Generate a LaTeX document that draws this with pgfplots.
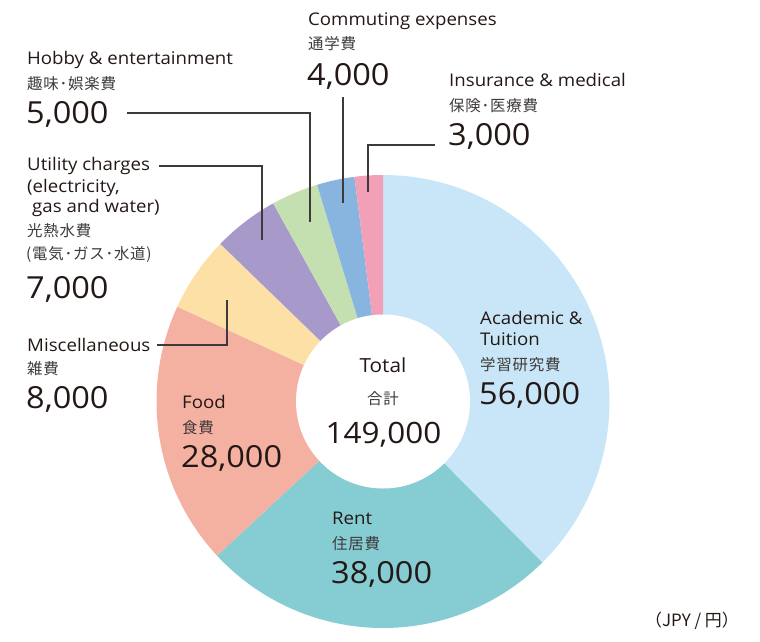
\documentclass[border=0pt]{standalone}
\usepackage{fontspec}
\setmainfont{Open Sans}[FakeStretch=1.07]
\newfontfamily\jpf{Noto Sans CJK JP}[LetterSpace=5]
\newfontfamily\jpfu{Noto Sans CJK JP}
\usepackage{pgfplots}
\usepackage{pgfplotstable}
\pgfplotsset{compat=1.18}
\definecolor{cAca}{HTML}{C8E6F7}
\definecolor{cRent}{HTML}{86CCD3}
\definecolor{cFood}{HTML}{F4B1A2}
\definecolor{cMisc}{HTML}{FCE0A5}
\definecolor{cUtil}{HTML}{A79ACB}
\definecolor{cHob}{HTML}{C4E0B1}
\definecolor{cCom}{HTML}{88B5E0}
\definecolor{cIns}{HTML}{F2A0B7}
\definecolor{txt}{HTML}{231815}
\definecolor{jtxt}{HTML}{3E3A39}
\newcommand\lab{\fontsize{17.5}{20}\selectfont}
\newcommand\jp{\jpf\fontsize{15.5}{18}\selectfont}
\newcommand\num{\fontsize{30.5}{34}\selectfont}
\pgfplotstableread{
value col
56000 cAca
38000 cRent
28000 cFood
8000 cMisc
7000 cUtil
5000 cHob
4000 cCom
3000 cIns
}\expdata
\begin{document}
\begin{tikzpicture}
\gdef\total{0}
\pgfplotsforeachungrouped \i in {0,...,7}{%
  \pgfplotstablegetelem{\i}{value}\of\expdata
  \xdef\total{\fpeval{\total+\pgfplotsretval}}%
}
\gdef\cur{90}
\pgfplotsforeachungrouped \i in {0,...,7}{%
  \pgfplotstablegetelem{\i}{value}\of\expdata
  \expandafter\xdef\csname aS\i\endcsname{\cur}%
  \xdef\cur{\fpeval{\cur-\pgfplotsretval/\total*360}}%
  \expandafter\xdef\csname aE\i\endcsname{\cur}%
  \pgfplotstablegetelem{\i}{col}\of\expdata
  \expandafter\xdef\csname cl\i\endcsname{\pgfplotsretval}%
}
\begin{axis}[
  x=1bp, y=1bp, xmin=0, xmax=760, ymin=0, ymax=632,
  y dir=reverse, hide axis, clip=false, scale only axis,
]
\path (axis cs:0,0) rectangle (axis cs:760,632);
\pgfplotsinvokeforeach{0,...,7}{%
  \edef\wedge{\noexpand\fill[\csname cl#1\endcsname] (axis cs:383,401.5) -- ++(\csname aS#1\endcsname:226.5bp) arc[start angle=\csname aS#1\endcsname, end angle=\csname aE#1\endcsname, radius=226.5bp] -- cycle;}%
  \wedge
}
\fill[white] (axis cs:383,401.5) circle[radius=87bp];
% leader lines
\draw[line width=1.1bp, jtxt] (axis cs:127,113) -- (axis cs:310,113) -- (axis cs:310,222);
\draw[line width=1.1bp, jtxt] (axis cs:343,97) -- (axis cs:343,203);
\draw[line width=1.1bp, jtxt] (axis cs:435,145) -- (axis cs:368,145) -- (axis cs:368,192);
\draw[line width=1.1bp, jtxt] (axis cs:159,166) -- (axis cs:262,166) -- (axis cs:262,240);
\draw[line width=1.1bp, jtxt] (axis cs:157,345) -- (axis cs:227,345) -- (axis cs:227,300);
\begin{scope}[every node/.style={anchor=base west, inner sep=0pt, text=txt}]
% Commuting
\node[font=\lab] at (axis cs:308,25) {Commuting expenses};
\node[font=\jp, text=jtxt] at (axis cs:308,49.5) {通学費};
\node[font=\num] at (axis cs:307,85) {4,000};
% Hobby
\node[font=\lab] at (axis cs:27,64) {Hobby \& entertainment};
\node[font=\jp, text=jtxt] at (axis cs:27,89.5) {趣味･娯楽費};
\node[font=\num] at (axis cs:26,123) {5,000};
% Insurance
\node[font=\lab] at (axis cs:449,86) {Insurance \& medical};
\node[font=\jp, text=jtxt] at (axis cs:449,111.5) {保険･医療費};
\node[font=\num] at (axis cs:448,145) {3,000};
% Utility
\node[font=\lab] at (axis cs:27,170) {Utility charges};
\node[font=\lab] at (axis cs:27,192) {(electricity,};
\node[font=\lab] at (axis cs:32,212) {gas and water)};
\node[font=\jp, text=jtxt] at (axis cs:27,236.5) {光熱水費};
\node[font=\jp, text=jtxt] at (axis cs:26,259.5) {(電気･ガス･水道)};
\node[font=\num] at (axis cs:26,298) {7,000};
% Misc
\node[font=\lab] at (axis cs:27,351) {Miscellaneous};
\node[font=\jp, text=jtxt] at (axis cs:27,374.5) {雑費};
\node[font=\num] at (axis cs:26,408) {8,000};
% Academic
\node[font=\lab] at (axis cs:480,324) {Academic \&};
\node[font=\lab] at (axis cs:480,345) {Tuition};
\node[font=\jp, text=jtxt] at (axis cs:480,370.5) {学習研究費};
\node[font=\num] at (axis cs:479,404) {56,000};
% Rent
\node[font=\lab] at (axis cs:332,524) {Rent};
\node[font=\jp, text=jtxt] at (axis cs:332,549.5) {住居費};
\node[font=\num] at (axis cs:331,583) {38,000};
% Food
\node[font=\lab] at (axis cs:182,408) {Food};
\node[font=\jp, text=jtxt] at (axis cs:182,433.5) {食費};
\node[font=\num] at (axis cs:181,467) {28,000};
% Total
\node[anchor=base, font=\fontsize{19.5}{24}\selectfont] at (axis cs:383,372) {Total};
\node[anchor=base, font=\jp, text=jtxt] at (axis cs:383,404.5) {合計};
\node[anchor=base, font=\fontsize{29.5}{34}\selectfont] at (axis cs:383.5,443) {149,000};
% unit
\node[font=\jpfu\fontsize{17}{20}\selectfont] at (axis cs:645,626) {（JPY / 円）};
\end{scope}
\end{axis}
\end{tikzpicture}
\end{document}
